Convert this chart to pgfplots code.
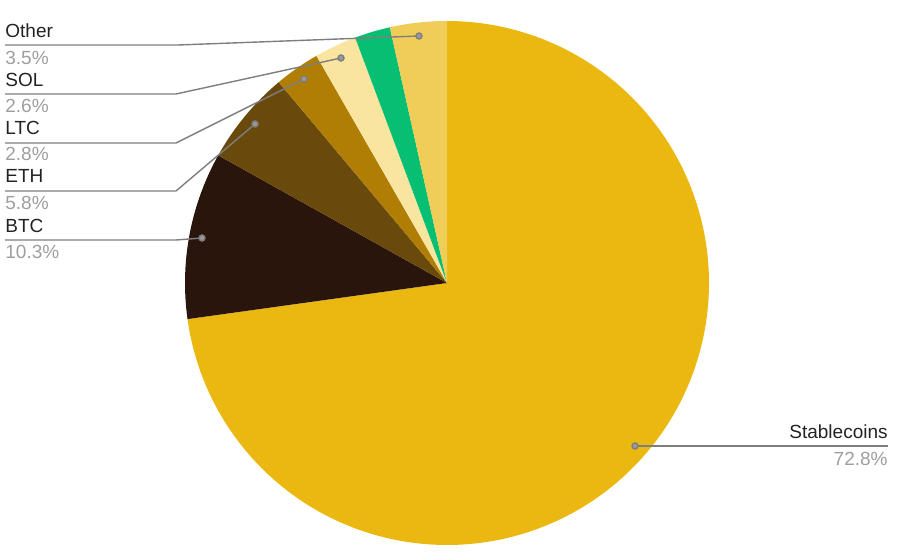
\documentclass[border=0pt]{standalone}
\usepackage{fontspec}
\setmainfont{Liberation Sans}
\usepackage{pgfplots}
\pgfplotsset{compat=1.18}
\definecolor{cStable}{HTML}{EBB811}
\definecolor{cBTC}{HTML}{29150C}
\definecolor{cETH}{HTML}{6A4A0C}
\definecolor{cLTC}{HTML}{B07D05}
\definecolor{cSOL}{HTML}{F9E5A0}
\definecolor{cGreen}{HTML}{06BF72}
\definecolor{cOther}{HTML}{F0CD58}
\definecolor{lineg}{HTML}{7E7E7E}
\definecolor{dotg}{HTML}{9A9A9A}
\definecolor{txt}{HTML}{222222}
\definecolor{valg}{HTML}{9E9E9E}
\begin{document}
\begin{tikzpicture}
\begin{axis}[
  width=449pt, height=276pt, scale only axis,
  xmin=0, xmax=898, ymin=0, ymax=552,
  hide axis, clip=false,
]
\path (rel axis cs:0,0) rectangle (rel axis cs:1,1);
% cumulative shares (percent): Stablecoins 72.8, BTC 10.3, ETH 5.8, LTC 2.8, SOL 2.6, (green) 2.2, Other 3.5
\addplot[fill=cStable, draw=none, domain={90-3.6*72.8}:{90-3.6*0}, samples=200, variable=\t] ({447+262*cos(t)},{269+262*sin(t)}) -- (447,269) -- cycle;
\addplot[fill=cBTC, draw=none, domain={90-3.6*83.1}:{90-3.6*72.8}, samples=40, variable=\t] ({447+262*cos(t)},{269+262*sin(t)}) -- (447,269) -- cycle;
\addplot[fill=cETH, draw=none, domain={90-3.6*88.9}:{90-3.6*83.1}, samples=30, variable=\t] ({447+262*cos(t)},{269+262*sin(t)}) -- (447,269) -- cycle;
\addplot[fill=cLTC, draw=none, domain={90-3.6*91.7}:{90-3.6*88.9}, samples=20, variable=\t] ({447+262*cos(t)},{269+262*sin(t)}) -- (447,269) -- cycle;
\addplot[fill=cSOL, draw=none, domain={90-3.6*94.3}:{90-3.6*91.7}, samples=20, variable=\t] ({447+262*cos(t)},{269+262*sin(t)}) -- (447,269) -- cycle;
\addplot[fill=cGreen, draw=none, domain={90-3.6*96.5}:{90-3.6*94.3}, samples=20, variable=\t] ({447+262*cos(t)},{269+262*sin(t)}) -- (447,269) -- cycle;
\addplot[fill=cOther, draw=none, domain={90-3.6*100}:{90-3.6*96.5}, samples=20, variable=\t] ({447+262*cos(t)},{269+262*sin(t)}) -- (447,269) -- cycle;

% leader lines
\pgfplotsset{leader/.style={lineg, line width=0.7pt, mark=*, mark size=1.5pt, mark options={fill=dotg, draw=none}}}
\addplot[leader, mark indices={3}] coordinates {(5,507) (178,507) (419,516)};
\addplot[leader, mark indices={3}] coordinates {(5,458) (176,458) (341,494)};
\addplot[leader, mark indices={3}] coordinates {(5,409) (176,409) (304,473)};
\addplot[leader, mark indices={3}] coordinates {(5,361) (176,361) (255,428)};
\addplot[leader, mark indices={3}] coordinates {(5,312) (176,312) (202,314)};
\addplot[leader, mark indices={2}] coordinates {(888,106) (635,106)};

% labels
\tikzset{lbl/.style={anchor=base west, inner sep=0pt, font=\fontsize{9.5}{11}\selectfont, text=txt},
         val/.style={anchor=base west, inner sep=0pt, font=\fontsize{9.5}{11}\selectfont, text=valg}}
\node[lbl] at (5,514) {Other};
\node[val] at (5,487) {3.5\%};
\node[lbl] at (5,465) {SOL};
\node[val] at (5,439) {2.6\%};
\node[lbl] at (5,417) {LTC};
\node[val] at (5,391) {2.8\%};
\node[lbl] at (5,369) {ETH};
\node[val] at (5,342) {5.8\%};
\node[lbl] at (5,320) {BTC};
\node[val] at (5,293) {10.3\%};
\node[lbl, anchor=base east] at (888,114) {Stablecoins};
\node[val, anchor=base east] at (888,87) {72.8\%};
\end{axis}
\end{tikzpicture}
\end{document}
